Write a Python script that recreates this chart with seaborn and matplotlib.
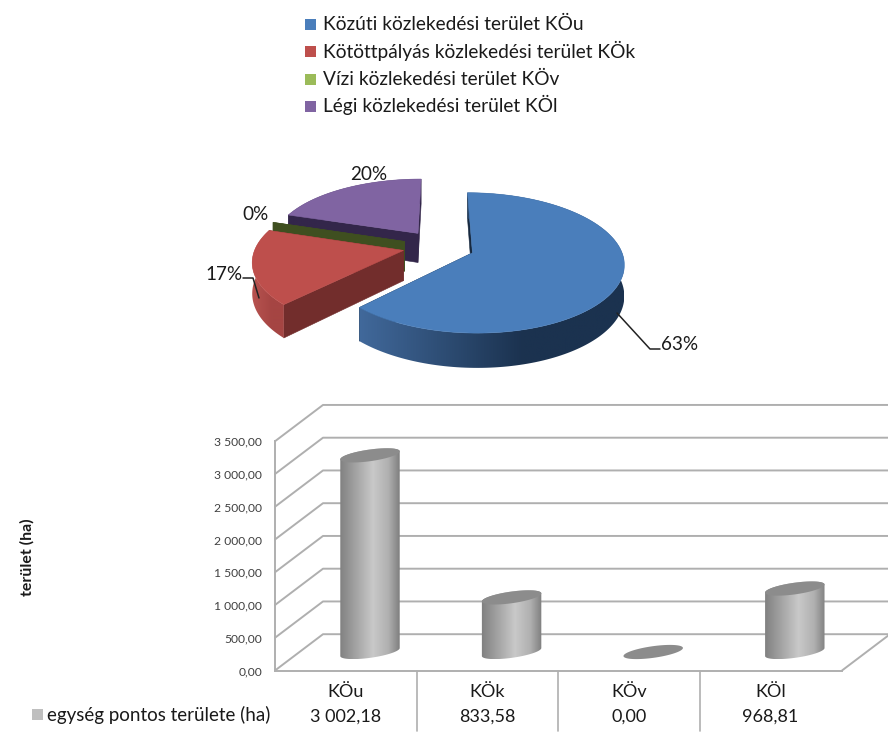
import numpy as np
import matplotlib
matplotlib.use("Agg")
import matplotlib.pyplot as plt
import seaborn as sns
from matplotlib.colors import LinearSegmentedColormap
from matplotlib.patches import Polygon, Rectangle

# data
categories = ["KÖu", "KÖk", "KÖv", "KÖl"]
areas = [3002.18, 833.58, 0.00, 968.81]
area_labels = ["3 002,18", "833,58", "0,00", "968,81"]
pie_labels = ["63%", "17%", "0%", "20%"]
legend_labels = [
    "Közúti közlekedési terület KÖu",
    "Kötöttpályás közlekedési terület KÖk",
    "Vízi közlekedési terület KÖv",
    "Légi közlekedési terület KÖl",
]
tick_values = [0, 500, 1000, 1500, 2000, 2500, 3000, 3500]
tick_labels = ["0,00", "500,00", "1 000,00", "1 500,00", "2 000,00", "2 500,00", "3 000,00", "3 500,00"]

# colours
top_colors = ["#4a7ebb", "#be4f4c", "#9bbb59", "#8064a2"]
wall_colors = ["#17293f", "#722d2c", "#3f4f20", "#33264a"]
rim_dark = ["#1b324f", "#a54543", "#3f4f20", "#33264a"]
rim_light = ["#41699b", "#b85350", "#3f4f20", "#33264a"]
GRID = "#afafaf"
TEXT = "#1a1a1a"

W, H = 888, 736
FONT = "Lato"

sns.set_theme(style="white")
plt.rcParams["font.family"] = [FONT, "DejaVu Sans"]

fig = plt.figure(figsize=(W / 100, H / 100), dpi=100)

# ---- 3D pie, in pixel coordinates of the picture
ax_pie = fig.add_axes([0, 0, 1, 1])
ax_pie.axis("off")

PIE_X, PIE_Y = 438.7, 246.4
RX, RY = 147.6, 68.3
PERSP = 0.147
EXPLODE = 0.244
DEPTH = 30


def project(x, y):
    s = 1 + PERSP * y
    return PIE_X + x * s * RX, PIE_Y + y * s * RY, DEPTH * s


def quad(a, b, color, z):
    pts = [(a[0], a[1]), (b[0], b[1]), (b[0], b[1] + b[2]), (a[0], a[1] + a[2])]
    ax_pie.add_patch(Polygon(pts, closed=True, fc=color, ec=color, lw=0.4, zorder=z))


shares = np.array(areas) / sum(areas)
edges = np.concatenate([[0], np.cumsum(shares)]) * 2 * np.pi

# back slices first, so the front ones cover them
for z, i in enumerate([3, 2, 1, 0]):
    start, end = edges[i], edges[i + 1]
    mid = (start + end) / 2
    ox, oy = EXPLODE * np.sin(mid), -EXPLODE * np.cos(mid)
    apex = project(ox, oy)
    phis = np.linspace(start, end, 160)
    rim = [project(ox + np.sin(p), oy - np.cos(p)) for p in phis]

    quad(apex, rim[0], wall_colors[i], z * 10 + 1)
    quad(apex, rim[-1], wall_colors[i], z * 10 + 1)
    if end > start:
        # rim as one shape with a left to right shading
        upper = [(p[0], p[1]) for p in rim]
        lower = [(p[0], p[1] + p[2]) for p in rim]
        band = Polygon(upper + lower[::-1], closed=True, transform=ax_pie.transData, fc="none", ec="none")
        ax_pie.add_patch(band)
        xs = [p[0] for p in rim]
        ys = [p[1] for p in lower] + [p[1] for p in upper]
        cmap = LinearSegmentedColormap.from_list("rim", [(0, rim_light[i]), (0.62, rim_dark[i]), (1, rim_dark[i])])
        img = ax_pie.imshow(np.linspace(0, 1, 256).reshape(1, -1), cmap=cmap, aspect="auto",
                            extent=[min(xs), max(xs), max(ys), min(ys)], zorder=z * 10 + 2)
        img.set_clip_path(band)
        face = [(apex[0], apex[1])] + upper
        ax_pie.add_patch(Polygon(face, closed=True, fc=top_colors[i], ec=top_colors[i], lw=0.4, zorder=z * 10 + 3))

ax_pie.set_xlim(0, W)
ax_pie.set_ylim(H, 0)

# pie labels and leader lines
pie_label_pos = [(680, 344), (224, 274), (255, 214), (369, 174)]
for lab, (lx, ly) in zip(pie_labels, pie_label_pos):
    ax_pie.text(lx, ly, lab, ha="center", va="center", fontsize=13.6, color=TEXT, zorder=100)
ax_pie.plot([617, 650, 660], [313, 349, 349], color="#222222", lw=1.1, zorder=99)
ax_pie.plot([243, 253, 259], [278, 278, 298], color="#222222", lw=1.1, zorder=99)

# legend rows, evenly spaced like the original
for i, (lab, col) in enumerate(zip(legend_labels, top_colors)):
    yc = 24.5 + 27.35 * i
    fig.add_artist(Rectangle((305 / W, 1 - (yc + 5.5) / H), 10.5 / W, 11 / H,
                             transform=fig.transFigure, fc=col, ec="none"))
    fig.text(323 / W, 1 - (yc + 5.8) / H, lab, ha="left", va="baseline", fontsize=13.8, color=TEXT)

# ---- cylinder chart: y data scale puts the cylinder bases at y px 652
PX_PER_CAT = 141.6
PX_PER_UNIT = 32.75 / 500
BASE_X, BASE_Y = 370, 652
FRONT_Y = 670.5
AX_LEFT, AX_TOP = 275, 405
WALL_DX, WALL_DY = 48, 36.3
CYL_W = 60


def to_dx(px):
    return (px - BASE_X) / PX_PER_CAT


def to_val(py):
    return (BASE_Y - py) / PX_PER_UNIT


ax = fig.add_axes([AX_LEFT / W, 1 - FRONT_Y / H, (W - AX_LEFT) / W, (FRONT_Y - AX_TOP) / H])
ax.patch.set_alpha(0)
sns.barplot(x=categories, y=areas, color="#bfbfbf", width=CYL_W / PX_PER_CAT, ax=ax, zorder=5)
ax.set_xlim(to_dx(AX_LEFT), to_dx(W))
ax.set_ylim(to_val(FRONT_Y), to_val(AX_TOP))
x0 = to_dx(AX_LEFT)
front_shift = to_val(FRONT_Y)
back_shift = to_val(FRONT_Y - WALL_DY)
dx_wall = WALL_DX / PX_PER_CAT

# back wall and left wall grid lines
for v in tick_values:
    ax.plot([x0, x0 + dx_wall, to_dx(W)], [v + front_shift, v + back_shift, v + back_shift],
            color=GRID, lw=1.4, zorder=1, clip_on=False)
ax.plot([to_dx(842), to_dx(842) + dx_wall], [front_shift, back_shift], color=GRID, lw=1.4, zorder=1, clip_on=False)

sns.despine(ax=ax, top=True, right=True)
for name in ["left", "bottom"]:
    ax.spines[name].set_color(GRID)
    ax.spines[name].set_linewidth(1.4)
ax.spines["left"].set_bounds(front_shift, tick_values[-1] + front_shift)
ax.spines["bottom"].set_bounds(x0, to_dx(842))

ax.set_yticks([v + front_shift for v in tick_values])
ax.set_yticklabels(tick_labels, fontsize=8.7, color="#404040")
ax.tick_params(axis="y", length=0, pad=9.4)
ax.set_ylabel("")

# table below the chart
cell_w = 141.6
cell_centres = [to_dx(AX_LEFT + cell_w * (i + 0.5)) for i in range(len(categories))]
ax.set_xticks(cell_centres)
ax.set_xticklabels([f"{c}\n{a}" for c, a in zip(categories, area_labels)], fontsize=13, color=TEXT, linespacing=1.62)
ax.tick_params(axis="x", length=0, pad=10)
for i in range(1, 4):
    xv = to_dx(AX_LEFT + cell_w * i)
    ax.plot([xv, xv], [front_shift, to_val(731)], color=GRID, lw=1.2, clip_on=False, zorder=1)

# cylinders: the seaborn bars give centre, width and height
A = CYL_W / 2
B = 5.8
TILT = np.radians(8)
shade = LinearSegmentedColormap.from_list(
    "cyl", [(0, "#7f7f7f"), (0.55, "#c9c9c9"), (0.8, "#b0b0b0"), (1, "#7a7a7a")])


def ellipse(cx, val, t):
    ex = A * np.cos(t) * np.cos(TILT) - B * np.sin(t) * np.sin(TILT)
    ey = A * np.cos(t) * np.sin(TILT) + B * np.sin(t) * np.cos(TILT)
    return np.column_stack([cx + ex / PX_PER_CAT, val + ey / PX_PER_UNIT])


for bar in ax.patches:
    cx = bar.get_x() + bar.get_width() / 2
    top = bar.get_height()
    bar.set_visible(False)
    if top > 0:
        outline = np.vstack([ellipse(cx, 0, np.linspace(np.pi, 2 * np.pi, 60)),
                             ellipse(cx, top, np.linspace(0, np.pi, 60))])
        clip = Polygon(outline, closed=True, transform=ax.transData, fc="none", ec="none")
        ax.add_patch(clip)
        half = (A + 1) / PX_PER_CAT
        img = ax.imshow(np.linspace(0, 1, 128).reshape(1, -1), cmap=shade, aspect="auto",
                        extent=[cx - half, cx + half, outline[:, 1].min(), outline[:, 1].max()], zorder=5)
        img.set_clip_path(clip)
    cap = Polygon(ellipse(cx, top, np.linspace(0, 2 * np.pi, 120)), closed=True, fc="#8c8c8c", ec="none", zorder=6)
    ax.add_patch(cap)

ax.set_xlim(to_dx(AX_LEFT), to_dx(W))
ax.set_ylim(to_val(FRONT_Y), to_val(AX_TOP))

# axis title and table key
fig.text(27 / W, 1 - 557 / H, "terület (ha)", rotation=90, ha="center", va="center",
         fontsize=11.4, fontweight="bold", color=TEXT)
fig.add_artist(Rectangle((32 / W, 1 - 720 / H), 11 / W, 11 / H, transform=fig.transFigure, fc="#bfbfbf", ec="none"))
fig.text(47 / W, 1 - 715 / H, "egység pontos területe (ha)", ha="left", va="center", fontsize=13.5, color=TEXT)

fig.savefig("out.png", dpi=100, facecolor="white")
